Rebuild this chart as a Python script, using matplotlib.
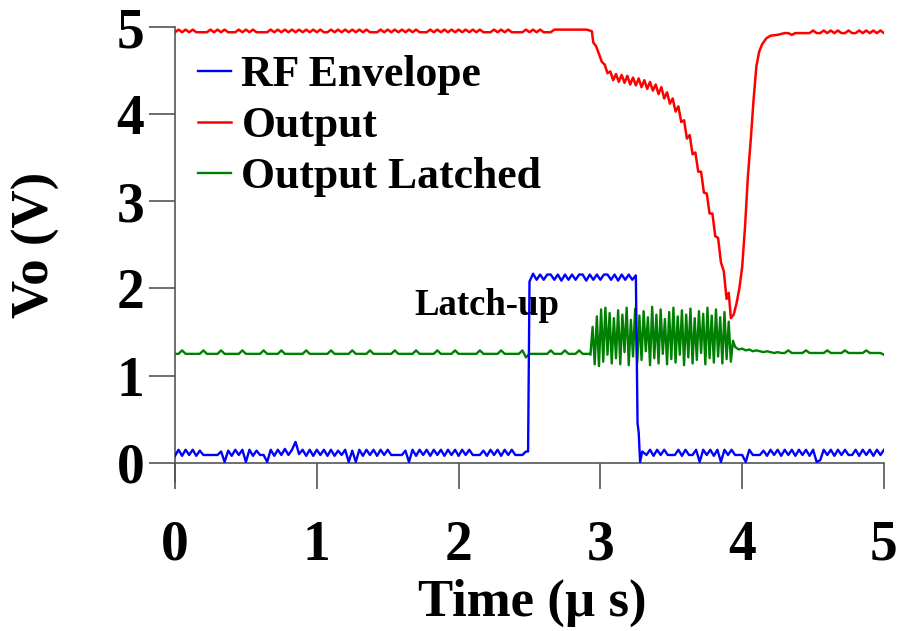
import numpy as np
import matplotlib
matplotlib.use('Agg')
import matplotlib.pyplot as plt

plt.rcParams['font.family'] = ['Liberation Serif', 'DejaVu Serif']
plt.rcParams['font.weight'] = 'bold'

DT = 0.025  # sample step (us) of the flat parts

# ---------------- RF Envelope (blue) ----------------
blue_low1 = [0.08, 0.15, 0.08, 0.15, 0.09, 0.15, 0.08, 0.14, 0.09, 0.09,
             0.09, 0.09, 0.09, 0.13, 0.01, 0.14, 0.08, 0.15, 0.09, 0.15,
             0.01, 0.15, 0.08, 0.14, 0.09, 0.09, 0.01, 0.15, 0.08, 0.15,
             0.09, 0.16, 0.09, 0.15, 0.24, 0.10, 0.15, 0.08, 0.15, 0.08,
             0.15, 0.09, 0.15, 0.08, 0.15, 0.08, 0.14, 0.09, 0.15, 0.01,
             0.14, 0.01, 0.15, 0.08, 0.15, 0.09, 0.15, 0.08, 0.15, 0.09,
             0.15, 0.09, 0.09, 0.09, 0.09, 0.14, 0.01, 0.15, 0.08, 0.15,
             0.09, 0.15, 0.08, 0.15, 0.09, 0.15, 0.08, 0.15, 0.09, 0.15,
             0.08, 0.15, 0.09, 0.15, 0.09, 0.09, 0.09, 0.14, 0.08, 0.15,
             0.09, 0.15, 0.08, 0.15, 0.09, 0.15, 0.09, 0.09, 0.09, 0.13]
blue_rise_t = [2.49]
blue_rise_v = [0.13]
blue_high = [2.08, 2.17, 2.10, 2.16, 2.10, 2.16, 2.16, 2.10, 2.16, 2.09,
             2.16, 2.10, 2.16, 2.10, 2.16, 2.16, 2.09, 2.16, 2.10, 2.16,
             2.10, 2.16, 2.16, 2.10, 2.16, 2.09, 2.16, 2.10, 2.16, 2.10, 2.15]
blue_fall_t = [3.262, 3.27, 3.28, 3.295]
blue_fall_v = [0.45, 0.35, 0.01, 0.13]
blue_low2 = [0.09, 0.15, 0.08, 0.15, 0.09, 0.15, 0.09, 0.09, 0.09, 0.15,
             0.08, 0.15, 0.09, 0.09, 0.15, 0.01, 0.15, 0.09, 0.15, 0.08,
             0.15, 0.01, 0.15, 0.09, 0.15, 0.09, 0.09, 0.09, 0.01, 0.15,
             0.09, 0.09, 0.09, 0.14, 0.08, 0.15, 0.09, 0.15, 0.08, 0.15,
             0.09, 0.15, 0.08, 0.15, 0.09, 0.15, 0.08, 0.15, 0.01, 0.03,
             0.15, 0.09, 0.15, 0.08, 0.15, 0.09, 0.15, 0.09, 0.09, 0.15,
             0.08, 0.15, 0.09, 0.15, 0.08, 0.15, 0.09, 0.15]

# ---------------- Output (red) ----------------
red_flat1 = [4.94, 4.97, 4.94, 4.97, 4.94, 4.97, 4.94, 4.94, 4.94, 4.94,
             4.97, 4.94, 4.97, 4.94, 4.97, 4.94, 4.94, 4.94, 4.97, 4.94,
             4.97, 4.94, 4.97, 4.94, 4.94, 4.94, 4.94, 4.97, 4.94, 4.97,
             4.94, 4.97, 4.94, 4.97, 4.94, 4.97, 4.94, 4.97, 4.94, 4.97,
             4.94, 4.97, 4.94, 4.94, 4.97, 4.94, 4.97, 4.94, 4.97, 4.94,
             4.97, 4.94, 4.97, 4.94, 4.97, 4.94, 4.94, 4.94, 4.97, 4.94,
             4.97, 4.94, 4.97, 4.94, 4.97, 4.94, 4.97, 4.94, 4.97, 4.94,
             4.94, 4.94, 4.97, 4.94, 4.97, 4.94, 4.97, 4.94, 4.97, 4.94,
             4.97, 4.94, 4.97, 4.94, 4.97, 4.94, 4.97, 4.94, 4.94, 4.94,
             4.97, 4.94, 4.97, 4.94, 4.97, 4.94, 4.94, 4.94, 4.94, 4.97,
             4.94, 4.97, 4.94, 4.97, 4.94, 4.94, 4.94, 4.97, 4.97, 4.97,
             4.97, 4.97, 4.97, 4.97, 4.97, 4.97, 4.97, 4.96]
red_drop_t = [2.94, 2.95, 2.97, 2.99, 3.01, 3.03, 3.05, 3.07, 3.09, 3.11,
              3.13, 3.15, 3.17, 3.19, 3.21, 3.23, 3.25, 3.27, 3.29, 3.31,
              3.33, 3.35, 3.37, 3.39, 3.41, 3.43, 3.45, 3.47, 3.49, 3.51,
              3.53, 3.55, 3.57, 3.59, 3.61, 3.63, 3.65, 3.67, 3.69, 3.71,
              3.73, 3.75, 3.77, 3.79, 3.81, 3.83, 3.85, 3.87, 3.89, 3.905,
              3.92, 3.94, 3.96, 3.98, 4.00, 4.02, 4.04, 4.06, 4.08, 4.10,
              4.12, 4.14, 4.17, 4.20, 4.25]
red_drop_v = [4.95, 4.82, 4.78, 4.69, 4.60, 4.57, 4.47, 4.49, 4.39, 4.46,
              4.37, 4.45, 4.36, 4.44, 4.34, 4.42, 4.33, 4.41, 4.31, 4.39,
              4.29, 4.37, 4.27, 4.34, 4.23, 4.31, 4.18, 4.25, 4.12, 4.18,
              4.03, 4.09, 3.91, 3.93, 3.72, 3.76, 3.54, 3.56, 3.34, 3.34,
              3.10, 3.09, 2.86, 2.86, 2.60, 2.58, 2.30, 2.20, 1.88, 1.95,
              1.66, 1.70, 1.83, 2.00, 2.25, 2.71, 3.28, 3.70, 4.16, 4.55,
              4.72, 4.80, 4.87, 4.90, 4.91]
red_flat2 = [4.93, 4.93, 4.91, 4.93, 4.93, 4.93, 4.93, 4.93, 4.96, 4.93,
             4.93, 4.96, 4.93, 4.96, 4.93, 4.96, 4.93, 4.93, 4.96, 4.93,
             4.93, 4.96, 4.93, 4.96, 4.93, 4.96, 4.93, 4.96, 4.93]

# ---------------- Output Latched (green) ----------------
green_flat1 = [1.25, 1.25, 1.29, 1.25, 1.25, 1.25, 1.25, 1.25, 1.29, 1.25,
               1.25, 1.25, 1.25, 1.29, 1.25, 1.25, 1.25, 1.25, 1.25, 1.29,
               1.25, 1.25, 1.25, 1.25, 1.25, 1.29, 1.25, 1.25, 1.25, 1.25,
               1.29, 1.25, 1.25, 1.25, 1.25, 1.25, 1.25, 1.29, 1.25, 1.25,
               1.25, 1.25, 1.25, 1.25, 1.29, 1.25, 1.25, 1.25, 1.25, 1.25,
               1.29, 1.25, 1.25, 1.25, 1.25, 1.29, 1.25, 1.25, 1.25, 1.25,
               1.25, 1.25, 1.29, 1.25, 1.25, 1.25, 1.25, 1.25, 1.29, 1.25,
               1.25, 1.25, 1.25, 1.25, 1.29, 1.25, 1.25, 1.25, 1.25, 1.29,
               1.25, 1.25, 1.25, 1.25, 1.25, 1.25, 1.29, 1.25, 1.25, 1.25,
               1.25, 1.25, 1.29, 1.25, 1.25, 1.25, 1.25, 1.25, 1.29, 1.21,
               1.25, 1.25, 1.25, 1.25, 1.25, 1.25, 1.29, 1.25, 1.25, 1.25,
               1.29, 1.25, 1.25, 1.25, 1.29, 1.25, 1.25, 1.25]
green_osc_t0, green_osc_dt = 2.93, 0.015
green_osc = [1.24, 1.56, 1.13, 1.68, 1.11, 1.76, 1.16, 1.78, 1.24, 1.72,
             1.14, 1.66, 1.20, 1.75, 1.13, 1.70, 1.27, 1.78, 1.12, 1.64,
             1.22, 1.77, 1.15, 1.69, 1.18, 1.74, 1.28, 1.67, 1.12, 1.79,
             1.20, 1.70, 1.14, 1.76, 1.25, 1.65, 1.13, 1.73, 1.19, 1.78,
             1.15, 1.68, 1.24, 1.75, 1.12, 1.70, 1.21, 1.77, 1.14, 1.66,
             1.18, 1.74, 1.26, 1.71, 1.13, 1.78, 1.20, 1.69, 1.15, 1.76,
             1.22, 1.67, 1.14, 1.73, 1.19, 1.62, 1.16, 1.40]
green_flat2 = [1.33, 1.30, 1.31, 1.29, 1.30, 1.28, 1.29, 1.28, 1.27, 1.28,
               1.27, 1.26, 1.27, 1.26, 1.26, 1.29, 1.26, 1.26, 1.26, 1.26,
               1.29, 1.26, 1.26, 1.26, 1.26, 1.26, 1.29, 1.26, 1.26, 1.26,
               1.26, 1.29, 1.26, 1.26, 1.26, 1.26, 1.26, 1.29, 1.26, 1.26,
               1.26, 1.26, 1.24]


def grid(t0, vals, dt=DT):
    return t0 + dt * np.arange(len(vals))


blue_t = np.concatenate([grid(0.0, blue_low1), blue_rise_t, grid(2.50, blue_high),
                         blue_fall_t, grid(3.325, blue_low2)])
blue_v = np.concatenate([blue_low1, blue_rise_v, blue_high, blue_fall_v, blue_low2])

red_t = np.concatenate([grid(0.0, red_flat1), red_drop_t, grid(4.30, red_flat2)])
red_v = np.concatenate([red_flat1, red_drop_v, red_flat2])

green_t = np.concatenate([grid(0.0, green_flat1), grid(green_osc_t0, green_osc, green_osc_dt),
                          grid(3.95, green_flat2)])
green_v = np.concatenate([green_flat1, green_osc, green_flat2])

# ---------------- figure ----------------
W, H = 898, 631
fig = plt.figure(figsize=(W / 100, H / 100), dpi=100)
ax = fig.add_axes([175 / W, 1 - 482 / H, 709 / W, (482 - 27) / H])

ax.plot(blue_t, blue_v, color='#0000ff', lw=1.7, label='RF Envelope', zorder=4)
ax.plot(red_t, red_v, color='#ff0000', lw=1.8, label='Output', zorder=3)
ax.plot(green_t, green_v, color='#008000', lw=1.7, label='Output Latched', zorder=2)

ax.set_xlim(0, 5)
ax.set_ylim(-0.22, 5.0)
ax.set_xticks([0, 1, 2, 3, 4, 5])
ax.set_yticks([0, 1, 2, 3, 4, 5])

for s in ['top', 'right']:
    ax.spines[s].set_visible(False)
ax.spines['bottom'].set_position(('data', 0))
for s in ['left', 'bottom']:
    ax.spines[s].set_color('#555555')
    ax.spines[s].set_linewidth(1.2)
ax.tick_params(axis='both', direction='out', length=19, width=1.2, color='#555555',
               labelsize=40, pad=3)
ax.tick_params(axis='x', pad=22)
for lab in ax.get_xticklabels() + ax.get_yticklabels():
    lab.set_fontweight('bold')

fig.text(532 / W, 1 - 603 / H, 'Time (\u00b5 s)', fontsize=38, fontweight='bold',
         ha='center', va='center')
fig.text(36 / W, 1 - 245 / H, 'Vo (V)', fontsize=38, fontweight='bold',
         ha='center', va='center', rotation=90)

ax.text(1.69, 1.70, 'Latch-up', fontsize=26.5, fontweight='bold', ha='left', va='baseline')

leg = ax.legend(loc='upper left', bbox_to_anchor=(0.032, 0.938), frameon=False,
                prop={'size': 31.5, 'weight': 'bold'}, handlelength=0.75,
                handletextpad=0.25, labelspacing=0.25, borderpad=0, borderaxespad=0)

fig.savefig('out.png', dpi=100)
